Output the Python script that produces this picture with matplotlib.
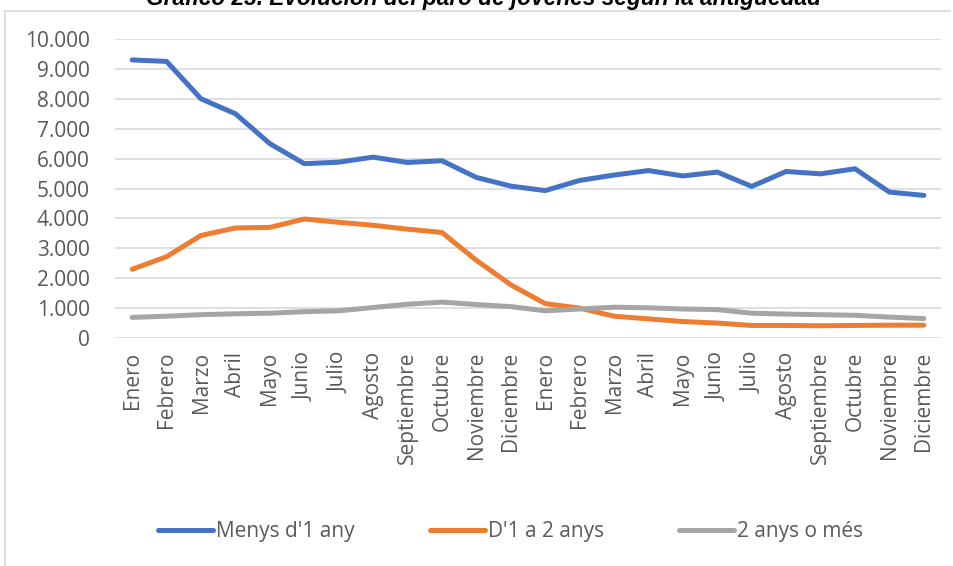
import numpy as np
import matplotlib
matplotlib.use('Agg')
from matplotlib import pyplot as plt
from matplotlib.ticker import FuncFormatter
from matplotlib.lines import Line2D

months = ['Enero', 'Febrero', 'Marzo', 'Abril', 'Mayo', 'Junio', 'Julio',
          'Agosto', 'Septiembre', 'Octubre', 'Noviembre', 'Diciembre'] * 2

menys_1_any = [9300, 9250, 8000, 7500, 6500, 5830, 5880, 6050, 5870, 5930, 5370, 5080,
               4930, 5270, 5450, 5600, 5420, 5550, 5070, 5570, 5490, 5660, 4880, 4770]
d1_a_2_anys = [2300, 2720, 3430, 3680, 3700, 3980, 3870, 3770, 3640, 3530, 2600, 1780,
               1150, 1000, 730, 640, 550, 500, 420, 420, 410, 420, 430, 430]
dos_anys_mes = [690, 730, 780, 810, 830, 880, 910, 1020, 1130, 1200, 1120, 1050,
                910, 970, 1030, 1010, 970, 950, 830, 800, 780, 760, 700, 650]

series_labels = ["Menys d'1 any", "D'1 a 2 anys", "2 anys o més"]
series_colors = ['#4472C4', '#ED7D31', '#A5A5A5']

plt.rcParams['font.family'] = ['Open Sans', 'DejaVu Sans']

fig = plt.figure(figsize=(9.54, 5.66), dpi=100)
ax = fig.add_axes([0.1205, 0.4028, 0.8659, 0.5283])

x = np.arange(len(months))
for vals, lab, col in zip([menys_1_any, d1_a_2_anys, dos_anys_mes], series_labels, series_colors):
    ax.plot(x, vals, color=col, lw=3.6, label=lab, solid_capstyle='round', solid_joinstyle='round')

ax.set_xlim(-0.5, len(months) - 0.5)
ax.set_ylim(0, 10000)
ax.set_yticks(np.arange(0, 10001, 1000))
ax.yaxis.set_major_formatter(FuncFormatter(lambda v, p: '{:,.0f}'.format(v).replace(',', '.')))
ax.set_xticks(x)
ax.set_xticklabels(months, rotation=90, va='top')
ax.tick_params(axis='both', length=0, labelsize=15, labelcolor='#595959')
ax.tick_params(axis='y', pad=18)
ax.tick_params(axis='x', pad=10)
ax.grid(axis='y', color='#d9d9d9', lw=1.2)
ax.set_axisbelow(True)
for s in ax.spines.values():
    s.set_visible(False)

# chart frame (only top and left edges are visible in the crop)
fig.add_artist(Line2D([5 / 954, 5 / 954], [0, 1 - 11 / 566], color='#d9d9d9', lw=1.2))
fig.add_artist(Line2D([5 / 954, 950 / 954], [1 - 11 / 566, 1 - 11 / 566], color='#d9d9d9', lw=1.2))

fig.text(0.507, 1 - 5 / 566, 'Gráfico 23. Evolución del paro de jóvenes según la antigüedad',
         ha='center', va='baseline', fontsize=16.3, fontweight='bold', fontstyle='italic',
         family=['Liberation Sans', 'DejaVu Sans'])

handles, labels = ax.get_legend_handles_labels()
fig.legend(handles, labels, loc='center', bbox_to_anchor=(0.535, 1 - 532 / 566), ncol=3,
           frameon=False, fontsize=15, handlelength=2.64, handletextpad=0.15,
           columnspacing=3.6, labelcolor='#595959')

plt.savefig('out.png', dpi=100)
